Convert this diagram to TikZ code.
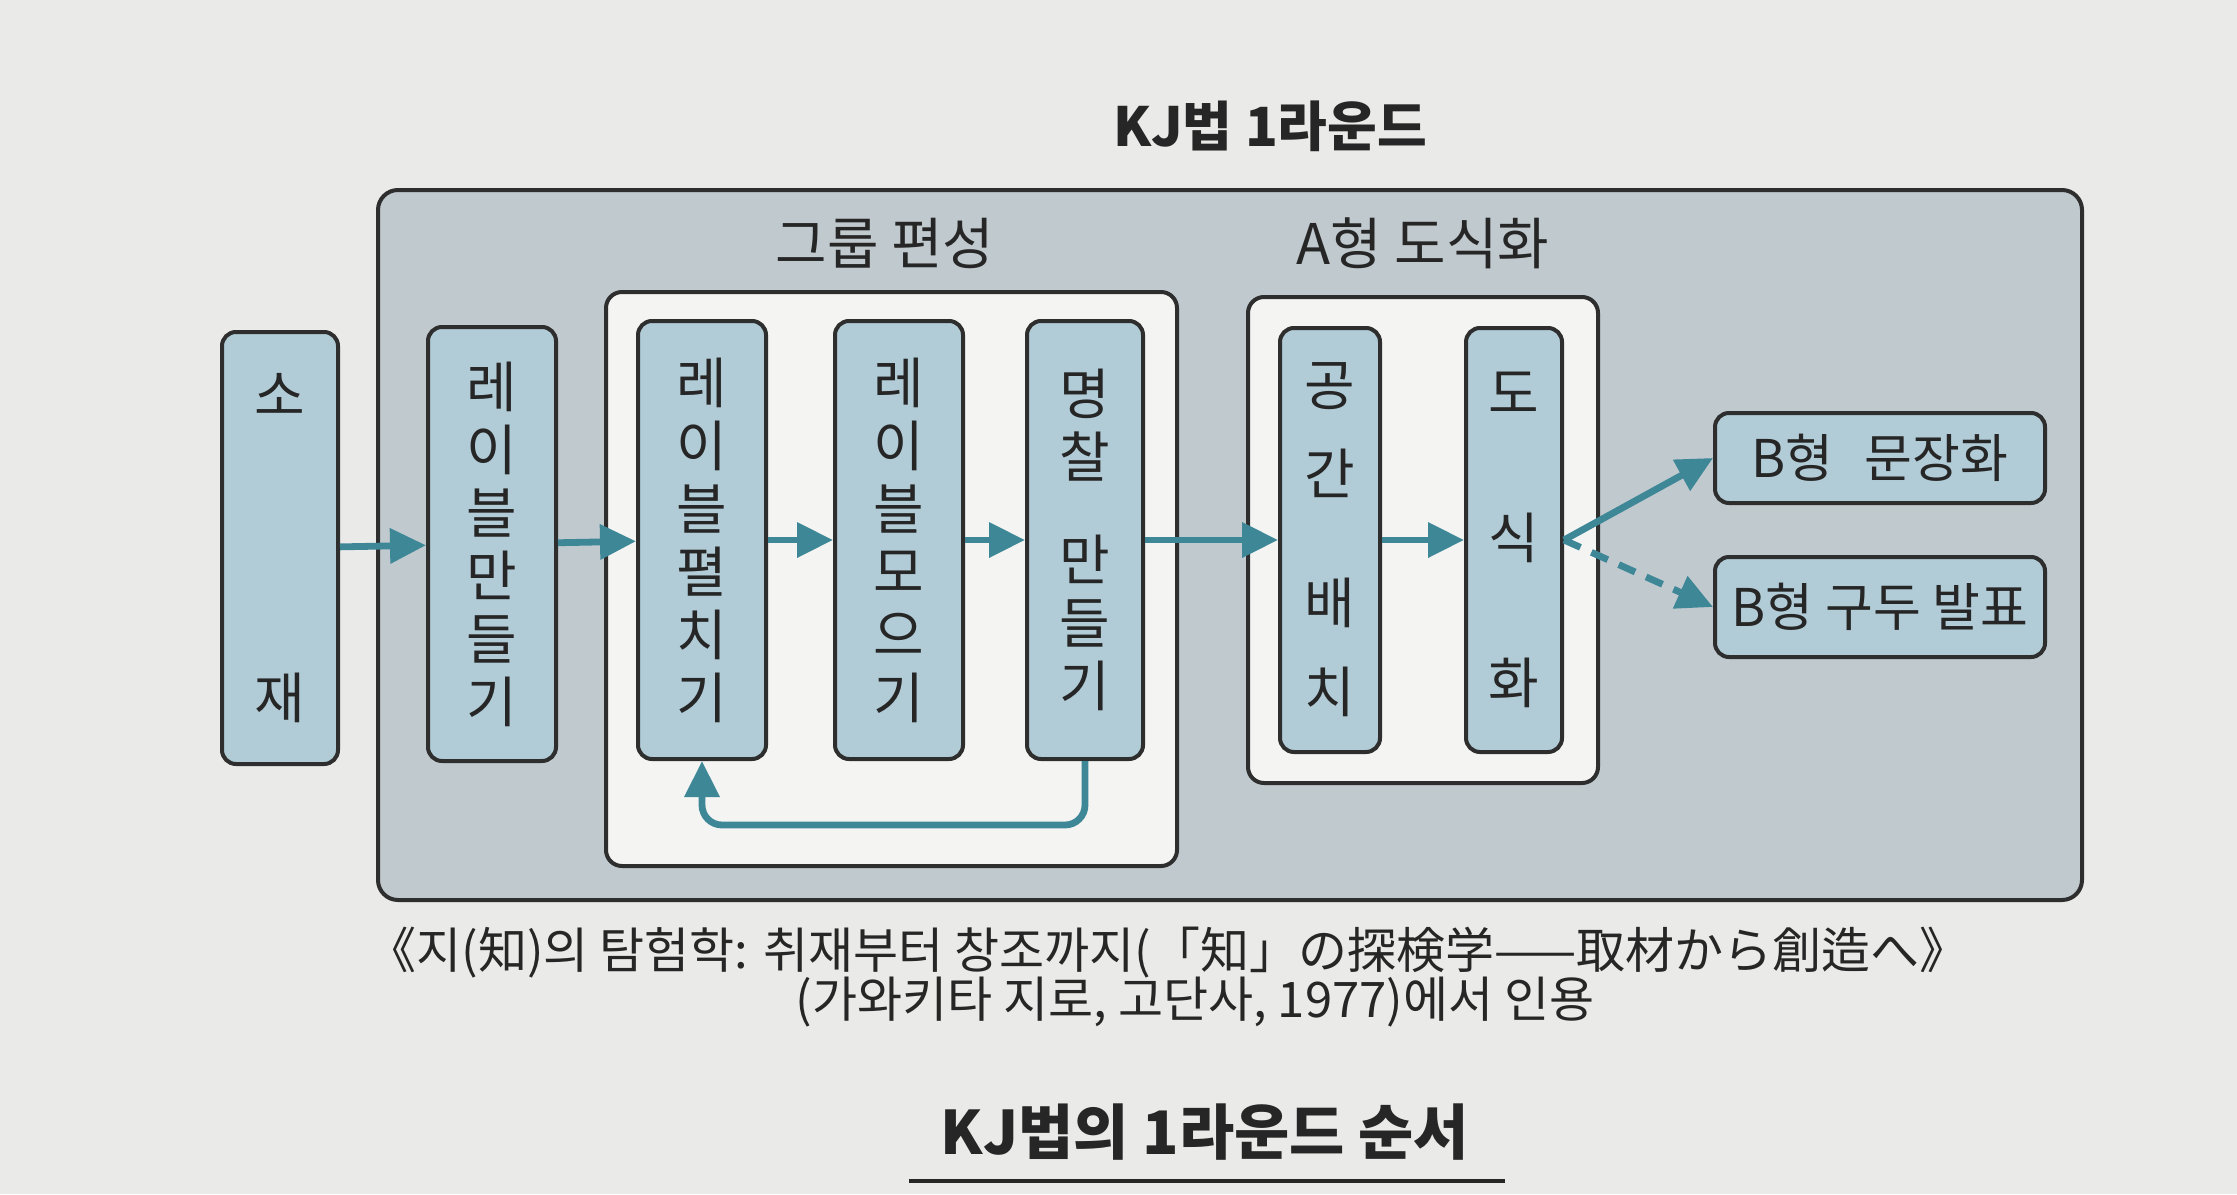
\documentclass[tikz,border=0pt]{standalone}
\usepackage{fontspec}
\setmainfont{Noto Sans CJK KR}
\usetikzlibrary{arrows.meta}
\definecolor{bg}{HTML}{EAEAE8}
\definecolor{outerfill}{HTML}{C0C9CE}
\definecolor{cellfill}{HTML}{B1CCD7}
\definecolor{innerfill}{HTML}{F4F4F3}
\definecolor{bord}{HTML}{2E2E2E}
\definecolor{arrowc}{HTML}{3E8797}
\definecolor{txt}{HTML}{262626}
\begin{document}
\begin{tikzpicture}[x=0.5pt,y=-0.5pt,
  cell/.style={draw=bord, fill=cellfill, line width=2pt, rounded corners=7pt,
    align=center, inner sep=0pt, text=txt, font=\fontsize{27.5}{31.5}\selectfont},
  grp/.style={draw=bord, fill=innerfill, line width=2pt, rounded corners=8pt, inner sep=0pt},
  outerbox/.style={draw=bord, fill=outerfill, line width=2pt, rounded corners=10pt, inner sep=0pt},
  arr/.style={draw=arrowc, line width=3.4pt, -{Triangle[length=18pt,width=17pt]}},
  head/.style={text=txt, font=\fontsize{28}{32}\selectfont},
  capt/.style={text=txt, font=\fontsize{24.5}{28}\selectfont}]
\useasboundingbox[fill=bg] (0,0) rectangle (2237,1194);

% outer box and title
\node[outerbox, minimum width=852pt, minimum height=355pt] (outer) at (1230,545) {};
\node[text=txt, font=\fontsize{27}{30}\selectfont\bfseries] (title) at (1270,126) {KJ법 1라운드};

% group boxes
\node[grp, minimum width=285.5pt, minimum height=287pt] (grpA) at (891.5,579) {};
\node[head] (grpAlbl) at (885,243) {그룹 편성};
\node[grp, minimum width=175pt, minimum height=243pt] (grpB) at (1423,540) {};
\node[head] (grpBlbl) at (1423,243) {A형 도식화};

% vertical cells
\node[cell, minimum width=58pt, minimum height=216pt] (so) at (280,548) {소\\[120pt]재};
\node[cell, minimum width=64pt, minimum height=217pt] (lab) at (492,544) {레\\이\\블\\만\\들\\기};
\node[cell, minimum width=64pt, minimum height=219pt] (p1) at (702,540) {레\\이\\블\\펼\\치\\기};
\node[cell, minimum width=64pt, minimum height=219pt] (p2) at (899,540) {레\\이\\블\\모\\으\\기};
\node[cell, minimum width=58pt, minimum height=219pt] (p3) at (1085,540) {명\\찰\\[20pt]만\\들\\기};
\node[cell, minimum width=50pt, minimum height=212pt] (s1) at (1330,540) {공\\[13pt]간\\[33pt]배\\[13pt]치};
\node[cell, minimum width=48pt, minimum height=212pt] (s2) at (1514,540) {도\\[41pt]식\\[41pt]화};

% horizontal cells
\node[cell, minimum width=165pt, minimum height=45pt, font=\fontsize{26}{28}\selectfont] (b1) at (1880,458) {B형\hspace{0.6em}문장화};
\node[cell, minimum width=165pt, minimum height=50pt, font=\fontsize{26}{28}\selectfont] (b2) at (1880,607) {B형 구두 발표};

% connectors
\draw[arr] (so) -- (lab);
\draw[arr] (lab) -- (p1);
\draw[arr] (p1) -- (p2);
\draw[arr] (p2) -- (p3);
\draw[arr] (p3) -- (s1);
\draw[arr] (s1) -- (s2);
\draw[arr] (s2.east) -- (b1.west);
\draw[arr, dash pattern=on 9pt off 6pt] (s2.east) -- (b2.west);
\coordinate (fb) at (900,825);
\draw[arr, rounded corners=10pt] (p3.south) |- (fb) -| (p1.south);

% captions
\node[capt] (cap1) at (1168,953) {《지(知)의 탐험학: 취재부터 창조까지(「知」の探検学——取材から創造へ》};
\node[capt] (cap2) at (1195,1002) {(가와키타 지로, 고단사, 1977)에서 인용};
\node[text=txt, font=\fontsize{30}{34}\selectfont\bfseries] (bottom) at (1205,1132) {KJ법의 1라운드 순서};
\coordinate (ul1) at (909,1181);
\coordinate (ul2) at (1505,1181);
\draw[draw=txt, line width=2pt] (ul1) -- (ul2);
\end{tikzpicture}
\end{document}
